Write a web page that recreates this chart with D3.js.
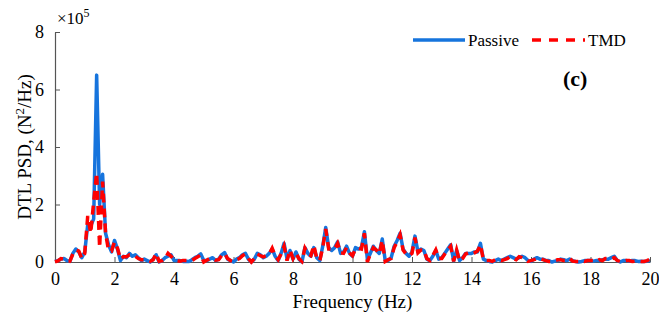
<!DOCTYPE html>
<html>
<head>
<meta charset="utf-8">
<script src="https://cdn.jsdelivr.net/npm/d3@7"></script>
<style>
  body{margin:0;background:#fff;}
  svg text{font-family:"Times New Roman","Liberation Serif",Tinos,"DejaVu Serif",serif;fill:#000;}
</style>
</head>
<body>
<svg id="chart" width="659" height="320"></svg>
<script>
// frequency axis, 0 to 20 Hz in 0.1 Hz steps
var freqStep=0.1
// PSD in units of 1e5 N^2/Hz
var passive=[
 0.02,0.05,0.10,0.12,0.05,0.02,0.30,0.45,0.35,0.15,
 0.35,1.30,1.25,1.50,6.50,2.00,3.05,1.00,0.60,0.35,
 0.75,0.45,0.05,0.20,0.15,0.30,0.20,0.25,0.15,0.05,
 0.10,0.05,0.00,0.10,0.25,0.00,0.05,0.15,0.20,0.25,
 0.05,0.05,0.05,0.02,0.03,0.02,0.08,0.15,0.20,0.28,
 0.05,0.05,0.10,0.15,0.05,0.10,0.25,0.33,0.10,0.05,
 0.00,0.10,0.15,0.25,0.30,0.10,0.00,0.10,0.30,0.25,
 0.15,0.20,0.30,0.45,0.20,0.05,0.30,0.65,0.10,0.40,
 0.10,0.35,0.10,0.00,0.50,0.30,0.20,0.50,0.15,0.05,
 0.55,1.20,0.50,0.40,0.50,0.70,0.30,0.35,0.55,0.30,
 0.20,0.50,0.45,0.50,1.05,0.10,0.30,0.55,0.40,0.30,
 0.80,0.05,0.05,0.15,0.55,0.75,1.00,0.45,0.30,0.20,
 0.35,0.90,0.35,0.45,0.40,0.10,0.05,0.20,0.40,0.10,
 0.15,0.30,0.45,0.60,0.05,0.40,0.05,0.15,0.30,0.30,
 0.30,0.35,0.35,0.65,0.10,0.05,0.02,0.00,0.05,0.10,
 0.05,0.10,0.15,0.20,0.15,0.10,0.15,0.20,0.15,0.05,
 0.02,0.10,0.15,0.10,0.10,0.05,0.05,0.00,0.03,0.05,
 0.10,0.08,0.05,0.10,0.05,0.02,0.00,0.02,0.05,0.05,
 0.05,0.03,0.05,0.05,0.08,0.10,0.10,0.15,0.20,0.05,
 0.00,0.05,0.05,0.03,0.05,0.05,0.02,0.03,0.02,0.03,
 0.05]
var tmd=[
 0.01,0.04,0.12,0.10,0.04,0.03,0.28,0.42,0.38,0.12,
 0.30,1.60,1.00,2.10,3.10,0.50,2.80,1.00,0.40,0.38,
 0.70,0.48,0.10,0.18,0.18,0.25,0.22,0.20,0.12,0.08,
 0.08,0.06,0.02,0.08,0.30,0.02,0.05,0.12,0.30,0.20,
 0.08,0.05,0.03,0.05,0.05,0.05,0.05,0.12,0.18,0.25,
 0.00,0.06,0.12,0.12,0.06,0.08,0.22,0.30,0.12,0.05,
 0.02,0.08,0.12,0.22,0.28,0.12,0.00,0.12,0.28,0.22,
 0.18,0.22,0.28,0.48,0.22,0.08,0.28,0.55,0.05,0.42,
 0.12,0.30,0.12,0.02,0.48,0.28,0.22,0.58,0.12,0.05,
 0.50,1.15,0.45,0.45,0.45,0.65,0.32,0.30,0.50,0.32,
 0.22,0.45,0.48,0.45,1.00,0.00,0.28,0.50,0.42,0.28,
 0.75,0.02,0.08,0.12,0.50,0.70,0.95,0.42,0.28,0.22,
 0.30,0.85,0.32,0.42,0.42,0.12,0.05,0.22,0.42,0.12,
 0.12,0.28,0.42,0.55,0.02,0.42,0.03,0.12,0.28,0.32,
 0.28,0.32,0.38,0.60,0.08,0.05,0.05,0.02,0.08,0.08,
 0.05,0.08,0.12,0.18,0.12,0.08,0.18,0.15,0.10,0.02,
 0.05,0.08,0.12,0.12,0.08,0.05,0.02,0.02,0.05,0.08,
 0.08,0.05,0.05,0.12,0.03,0.02,0.02,0.05,0.02,0.05,
 0.05,0.05,0.02,0.08,0.05,0.12,0.12,0.10,0.15,0.05,
 0.02,0.02,0.05,0.05,0.02,0.03,0.03,0.02,0.02,0.05,
 0.10]
var xTicks=[0,2,4,6,8,10,12,14,16,18,20]
var yTicks=[0,2,4,6,8]
var legendNames=['Passive','TMD']
var colors=['#1674dd','#ff0000']
var serif='"Times New Roman","Liberation Serif",Tinos,"DejaVu Serif",serif'

var svg=d3.select('#chart')
var m={left:55,right:9,top:32,bottom:58}
var W=659,H=320
var x=d3.scaleLinear().domain([0,20]).range([m.left,W-m.right])
var y=d3.scaleLinear().domain([0,8]).range([H-m.bottom,m.top])

// axes, ticks pointing inward
var xAxis=svg.append('g').attr('transform',`translate(0,${y(0)})`)
    .call(d3.axisBottom(x).tickValues(xTicks).tickSizeInner(-5).tickSizeOuter(0).tickPadding(10))
var yAxis=svg.append('g').attr('transform',`translate(${x(0)},0)`)
    .call(d3.axisLeft(y).tickValues(yTicks).tickSizeInner(-5).tickSizeOuter(0).tickPadding(11))
;[xAxis,yAxis].forEach(a=>{
    a.attr('font-family',serif)
    a.select('.domain').attr('stroke','#555').attr('stroke-width',1.2)
    a.selectAll('.tick line').attr('stroke','#555')
    a.selectAll('.tick text').attr('font-size',18).attr('fill','#000')
})

// lines
var line=d3.line().x((d,i)=>x(i*freqStep)).y(d=>y(d))
svg.append('path').datum(passive)
    .attr('fill','none').attr('stroke',colors[0]).attr('stroke-width',3.5)
    .attr('stroke-linejoin','round').attr('d',line)
svg.append('path').datum(tmd)
    .attr('fill','none').attr('stroke',colors[1]).attr('stroke-width',3.5)
    .attr('stroke-dasharray','9,6').attr('d',line)

// exponent label
var ex=svg.append('text').attr('x',57).attr('y',24).attr('font-size',17).attr('font-family',serif)
ex.append('tspan').text('\u00d710')
ex.append('tspan').attr('dy',-7).attr('font-size',12).text('5')

// axis titles
svg.append('text').attr('x',x(10)).attr('y',308).attr('text-anchor','middle')
    .attr('font-family',serif).attr('font-size',19).text('Frequency (Hz)')
var yl=svg.append('text').attr('transform',`translate(31,${y(4)}) rotate(-90)`)
    .attr('text-anchor','middle').attr('font-family',serif).attr('font-size',19)
yl.append('tspan').text('DTL PSD, (N')
yl.append('tspan').attr('dy',-7).attr('font-size',13).text('2')
yl.append('tspan').attr('dy',7).text('/Hz)')

// legend
var lg=svg.append('g').attr('font-family',serif)
lg.append('line').attr('x1',413).attr('x2',465).attr('y1',40).attr('y2',40)
    .attr('stroke',colors[0]).attr('stroke-width',3.5)
lg.append('text').attr('x',468).attr('y',46).attr('font-size',17).text(legendNames[0])
lg.append('line').attr('x1',532).attr('x2',585).attr('y1',40).attr('y2',40)
    .attr('stroke',colors[1]).attr('stroke-width',3.5).attr('stroke-dasharray','9,8')
lg.append('text').attr('x',588).attr('y',46).attr('font-size',17).text(legendNames[1])

svg.append('text').attr('x',563).attr('y',86).attr('font-family',serif)
    .attr('font-size',22).attr('font-weight','bold').text('(c)')
</script>
</body>
</html>
